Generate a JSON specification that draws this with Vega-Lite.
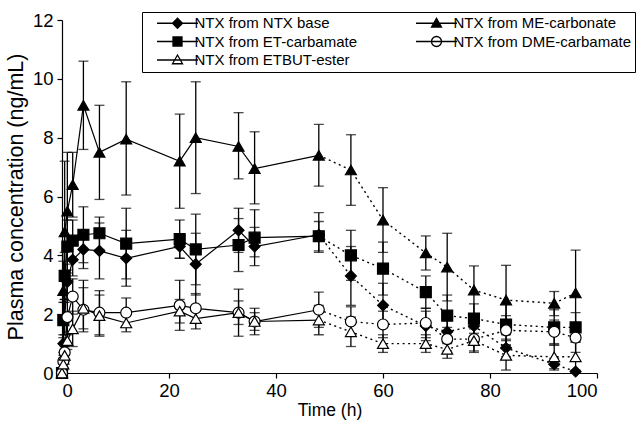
{
  "$schema": "https://vega.github.io/schema/vega-lite/v6.json",
  "width": 535,
  "height": 353,
  "autosize": {"type": "none"},
  "padding": {"left": 62, "top": 20, "right": 47, "bottom": 51},
  "config": {
    "view": {"stroke": null},
    "font": "Liberation Sans",
    "axis": {"grid": false, "domainColor": "black", "tickColor": "black", "labelColor": "black", "titleColor": "black", "labelFont": "Liberation Sans", "titleFont": "Liberation Sans", "titleFontWeight": "normal", "domainWidth": 1.2, "tickWidth": 1.2}
  },
  "data": {"values": [
    {"s":"NTX from NTX base","t":0,"y":0,"lo":0,"hi":0},
    {"s":"NTX from NTX base","t":0.25,"y":1.0,"lo":0.7,"hi":1.3},
    {"s":"NTX from NTX base","t":0.5,"y":1.9,"lo":1.3,"hi":2.5},
    {"s":"NTX from NTX base","t":1,"y":3.1,"lo":2.5,"hi":3.7},
    {"s":"NTX from NTX base","t":2,"y":3.85,"lo":3.3,"hi":4.4},
    {"s":"NTX from NTX base","t":4,"y":4.2,"lo":3.55,"hi":4.85},
    {"s":"NTX from NTX base","t":7,"y":4.15,"lo":3.2,"hi":5.1},
    {"s":"NTX from NTX base","t":12,"y":3.9,"lo":2.95,"hi":4.85},
    {"s":"NTX from NTX base","t":22,"y":4.3,"lo":3.9,"hi":4.7},
    {"s":"NTX from NTX base","t":25,"y":3.7,"lo":2.65,"hi":4.75},
    {"s":"NTX from NTX base","t":33,"y":4.85,"lo":4.1,"hi":5.6},
    {"s":"NTX from NTX base","t":36,"y":4.3,"lo":3.65,"hi":4.95},
    {"s":"NTX from NTX base","t":48,"y":4.7,"lo":4.15,"hi":5.15},
    {"s":"NTX from NTX base","t":54,"y":3.3,"lo":2.3,"hi":4.3},
    {"s":"NTX from NTX base","t":60,"y":2.3,"lo":1.55,"hi":3.05},
    {"s":"NTX from NTX base","t":68,"y":1.6,"lo":1.1,"hi":2.1},
    {"s":"NTX from NTX base","t":72,"y":1.4,"lo":1.0,"hi":1.8},
    {"s":"NTX from NTX base","t":77,"y":1.6,"lo":1.2,"hi":2.0},
    {"s":"NTX from NTX base","t":83,"y":0.85,"lo":0.55,"hi":1.15},
    {"s":"NTX from NTX base","t":92,"y":0.3,"lo":0.1,"hi":0.5},
    {"s":"NTX from NTX base","t":96,"y":0.05,"lo":0,"hi":0.1},

    {"s":"NTX from ME-carbonate","t":0,"y":0,"lo":0,"hi":0},
    {"s":"NTX from ME-carbonate","t":0.25,"y":2.8,"lo":1.8,"hi":3.8},
    {"s":"NTX from ME-carbonate","t":0.5,"y":4.8,"lo":2.4,"hi":7.2},
    {"s":"NTX from ME-carbonate","t":1,"y":5.5,"lo":3.5,"hi":7.5},
    {"s":"NTX from ME-carbonate","t":2,"y":6.4,"lo":5.3,"hi":7.5},
    {"s":"NTX from ME-carbonate","t":4,"y":9.1,"lo":7.6,"hi":10.6},
    {"s":"NTX from ME-carbonate","t":7,"y":7.5,"lo":5.9,"hi":9.1},
    {"s":"NTX from ME-carbonate","t":12,"y":7.95,"lo":6.05,"hi":9.9},
    {"s":"NTX from ME-carbonate","t":22,"y":7.2,"lo":5.6,"hi":8.8},
    {"s":"NTX from ME-carbonate","t":25,"y":8.0,"lo":6.1,"hi":9.9},
    {"s":"NTX from ME-carbonate","t":33,"y":7.7,"lo":6.6,"hi":8.85},
    {"s":"NTX from ME-carbonate","t":36,"y":6.95,"lo":5.75,"hi":8.2},
    {"s":"NTX from ME-carbonate","t":48,"y":7.4,"lo":6.35,"hi":8.45},
    {"s":"NTX from ME-carbonate","t":54,"y":6.9,"lo":5.7,"hi":8.1},
    {"s":"NTX from ME-carbonate","t":60,"y":5.2,"lo":4.1,"hi":6.3},
    {"s":"NTX from ME-carbonate","t":68,"y":4.08,"lo":3.5,"hi":4.66},
    {"s":"NTX from ME-carbonate","t":72,"y":3.6,"lo":2.45,"hi":4.75},
    {"s":"NTX from ME-carbonate","t":77,"y":2.82,"lo":2.0,"hi":3.64},
    {"s":"NTX from ME-carbonate","t":83,"y":2.48,"lo":1.3,"hi":3.66},
    {"s":"NTX from ME-carbonate","t":92,"y":2.37,"lo":1.95,"hi":2.77},
    {"s":"NTX from ME-carbonate","t":96,"y":2.72,"lo":1.3,"hi":4.18},

    {"s":"NTX from ET-carbamate","t":0,"y":0,"lo":0,"hi":0},
    {"s":"NTX from ET-carbamate","t":0.25,"y":1.8,"lo":1.2,"hi":2.4},
    {"s":"NTX from ET-carbamate","t":0.5,"y":3.3,"lo":2.5,"hi":4.1},
    {"s":"NTX from ET-carbamate","t":1,"y":4.3,"lo":3.4,"hi":5.2},
    {"s":"NTX from ET-carbamate","t":2,"y":4.5,"lo":3.8,"hi":5.2},
    {"s":"NTX from ET-carbamate","t":4,"y":4.7,"lo":3.75,"hi":5.65},
    {"s":"NTX from ET-carbamate","t":7,"y":4.75,"lo":4.2,"hi":5.3},
    {"s":"NTX from ET-carbamate","t":12,"y":4.4,"lo":3.2,"hi":5.6},
    {"s":"NTX from ET-carbamate","t":22,"y":4.55,"lo":3.9,"hi":5.2},
    {"s":"NTX from ET-carbamate","t":25,"y":4.2,"lo":3.0,"hi":5.4},
    {"s":"NTX from ET-carbamate","t":33,"y":4.35,"lo":3.45,"hi":5.25},
    {"s":"NTX from ET-carbamate","t":36,"y":4.6,"lo":3.95,"hi":5.55},
    {"s":"NTX from ET-carbamate","t":48,"y":4.65,"lo":4.1,"hi":5.45},
    {"s":"NTX from ET-carbamate","t":54,"y":4.0,"lo":3.15,"hi":4.85},
    {"s":"NTX from ET-carbamate","t":60,"y":3.55,"lo":2.65,"hi":4.45},
    {"s":"NTX from ET-carbamate","t":68,"y":2.75,"lo":2.2,"hi":3.3},
    {"s":"NTX from ET-carbamate","t":72,"y":1.95,"lo":1.25,"hi":2.65},
    {"s":"NTX from ET-carbamate","t":77,"y":1.85,"lo":1.35,"hi":2.35},
    {"s":"NTX from ET-carbamate","t":83,"y":1.65,"lo":0.95,"hi":2.35},
    {"s":"NTX from ET-carbamate","t":92,"y":1.55,"lo":0.95,"hi":2.15},
    {"s":"NTX from ET-carbamate","t":96,"y":1.55,"lo":1.05,"hi":2.05},

    {"s":"NTX from DME-carbamate","t":0,"y":0,"lo":0,"hi":0},
    {"s":"NTX from DME-carbamate","t":0.25,"y":0.4,"lo":0.2,"hi":0.6},
    {"s":"NTX from DME-carbamate","t":0.5,"y":0.7,"lo":0.4,"hi":1.0},
    {"s":"NTX from DME-carbamate","t":1,"y":1.9,"lo":1.3,"hi":2.5},
    {"s":"NTX from DME-carbamate","t":2,"y":2.6,"lo":2.0,"hi":3.2},
    {"s":"NTX from DME-carbamate","t":4,"y":2.15,"lo":1.4,"hi":3.15},
    {"s":"NTX from DME-carbamate","t":7,"y":2.05,"lo":1.3,"hi":2.8},
    {"s":"NTX from DME-carbamate","t":12,"y":2.05,"lo":1.55,"hi":2.55},
    {"s":"NTX from DME-carbamate","t":22,"y":2.3,"lo":1.45,"hi":3.15},
    {"s":"NTX from DME-carbamate","t":25,"y":2.2,"lo":1.7,"hi":2.7},
    {"s":"NTX from DME-carbamate","t":33,"y":2.05,"lo":1.25,"hi":2.85},
    {"s":"NTX from DME-carbamate","t":36,"y":1.75,"lo":1.3,"hi":2.2},
    {"s":"NTX from DME-carbamate","t":48,"y":2.15,"lo":1.55,"hi":2.75},
    {"s":"NTX from DME-carbamate","t":54,"y":1.75,"lo":1.25,"hi":2.25},
    {"s":"NTX from DME-carbamate","t":60,"y":1.65,"lo":1.2,"hi":2.1},
    {"s":"NTX from DME-carbamate","t":68,"y":1.7,"lo":1.2,"hi":2.2},
    {"s":"NTX from DME-carbamate","t":72,"y":1.15,"lo":0.75,"hi":1.55},
    {"s":"NTX from DME-carbamate","t":77,"y":1.15,"lo":0.75,"hi":1.55},
    {"s":"NTX from DME-carbamate","t":83,"y":1.45,"lo":0.95,"hi":1.95},
    {"s":"NTX from DME-carbamate","t":92,"y":1.4,"lo":1.0,"hi":1.8},
    {"s":"NTX from DME-carbamate","t":96,"y":1.2,"lo":0.7,"hi":1.7},

    {"s":"NTX from ETBUT-ester","t":0,"y":0,"lo":0,"hi":0},
    {"s":"NTX from ETBUT-ester","t":0.25,"y":0.3,"lo":0.1,"hi":0.5},
    {"s":"NTX from ETBUT-ester","t":0.5,"y":0.6,"lo":0.3,"hi":0.9},
    {"s":"NTX from ETBUT-ester","t":1,"y":1.1,"lo":0.8,"hi":1.4},
    {"s":"NTX from ETBUT-ester","t":2,"y":1.5,"lo":0.9,"hi":2.1},
    {"s":"NTX from ETBUT-ester","t":4,"y":2.2,"lo":1.5,"hi":2.9},
    {"s":"NTX from ETBUT-ester","t":7,"y":1.95,"lo":1.25,"hi":2.65},
    {"s":"NTX from ETBUT-ester","t":12,"y":1.7,"lo":1.4,"hi":2.0},
    {"s":"NTX from ETBUT-ester","t":22,"y":2.1,"lo":1.7,"hi":2.5},
    {"s":"NTX from ETBUT-ester","t":25,"y":1.85,"lo":1.5,"hi":2.2},
    {"s":"NTX from ETBUT-ester","t":33,"y":2.05,"lo":1.65,"hi":2.45},
    {"s":"NTX from ETBUT-ester","t":36,"y":1.75,"lo":1.45,"hi":2.05},
    {"s":"NTX from ETBUT-ester","t":48,"y":1.8,"lo":1.3,"hi":2.3},
    {"s":"NTX from ETBUT-ester","t":54,"y":1.4,"lo":0.9,"hi":1.9},
    {"s":"NTX from ETBUT-ester","t":60,"y":1.0,"lo":0.7,"hi":1.3},
    {"s":"NTX from ETBUT-ester","t":68,"y":1.0,"lo":0.7,"hi":1.3},
    {"s":"NTX from ETBUT-ester","t":72,"y":0.8,"lo":0.5,"hi":1.1},
    {"s":"NTX from ETBUT-ester","t":77,"y":1.1,"lo":0.7,"hi":1.5},
    {"s":"NTX from ETBUT-ester","t":83,"y":0.6,"lo":0.1,"hi":1.1},
    {"s":"NTX from ETBUT-ester","t":92,"y":0.55,"lo":0.15,"hi":0.95},
    {"s":"NTX from ETBUT-ester","t":96,"y":0.55,"lo":0.05,"hi":1.05}
  ]},
  "encoding": {
    "x": {"field": "t", "type": "quantitative", "scale": {"domain": [0, 100], "nice": false},
      "axis": {"title": "Time (h)", "values": [0, 20, 40, 60, 80, 100], "labelFontSize": 18.5, "titleFontSize": 17.5, "tickSize": 5, "labelPadding": 3, "titlePadding": 2}}
  },
  "layer": [
    {
      "mark": {"type": "rule", "stroke": "black", "strokeWidth": 1.3},
      "encoding": {
        "y": {"field": "lo", "type": "quantitative", "scale": {"domain": [0, 12], "nice": false},
          "axis": {"title": "Plasma concentration (ng/mL)", "values": [0, 2, 4, 6, 8, 10, 12], "labelFontSize": 18.5, "titleFontSize": 21.5, "tickSize": 5, "labelPadding": 4, "titlePadding": 5}},
        "y2": {"field": "hi"}
      }
    },
    {
      "mark": {"type": "tick", "orient": "horizontal", "color": "black", "size": 10, "thickness": 1.3},
      "encoding": {"y": {"field": "lo", "type": "quantitative"}}
    },
    {
      "mark": {"type": "tick", "orient": "horizontal", "color": "black", "size": 10, "thickness": 1.3},
      "encoding": {"y": {"field": "hi", "type": "quantitative"}}
    },
    {
      "transform": [{"filter": "datum.t <= 48"}],
      "mark": {"type": "line", "stroke": "black", "strokeWidth": 1.2},
      "encoding": {"y": {"field": "y", "type": "quantitative"}, "detail": {"field": "s"}}
    },
    {
      "transform": [{"filter": "datum.t >= 48"}],
      "mark": {"type": "line", "stroke": "black", "strokeWidth": 1.4, "strokeDash": [2, 3.5]},
      "encoding": {"y": {"field": "y", "type": "quantitative"}, "detail": {"field": "s"}}
    },
    {
      "mark": {"type": "point", "filled": true, "stroke": "black", "strokeWidth": 1.2, "size": 120, "opacity": 1},
      "encoding": {
        "y": {"field": "y", "type": "quantitative"},
        "shape": {"field": "s", "type": "nominal", "legend": null,
          "scale": {"domain": ["NTX from NTX base", "NTX from ME-carbonate", "NTX from ET-carbamate", "NTX from DME-carbamate", "NTX from ETBUT-ester"],
                    "range": ["diamond", "triangle-up", "square", "circle", "triangle-up"]}},
        "fill": {"field": "s", "type": "nominal", "legend": null,
          "scale": {"domain": ["NTX from NTX base", "NTX from ME-carbonate", "NTX from ET-carbamate", "NTX from DME-carbamate", "NTX from ETBUT-ester"],
                    "range": ["black", "black", "black", "white", "white"]}}
      }
    },
    {
      "mark": {"type": "point", "filled": true, "stroke": "black", "strokeWidth": 1.2, "size": 120, "opacity": 0},
      "encoding": {
        "y": {"field": "y", "type": "quantitative"},
        "shape": {"field": "s", "type": "nominal",
          "scale": {"domain": ["NTX from NTX base", "NTX from ME-carbonate", "NTX from ET-carbamate", "NTX from DME-carbamate", "NTX from ETBUT-ester"],
                    "range": ["M0.8,0H9M4.9,-1L5.9,0L4.9,1L3.9,0Z", "M0.8,0H9M4.9,-1L5.9,0.75H3.9Z", "M0.8,0H9M4,-0.9H5.8V0.9H4Z", "M0.8,0H9M5.9,0A1,1,0,1,1,3.9,0A1,1,0,1,1,5.9,0Z", "M0.8,0H9M4.9,-1L5.9,0.75H3.9Z"]},
          "legend": {"title": null, "orient": "none", "legendX": 80, "legendY": -8, "direction": "horizontal", "columns": 2, "columnPadding": 47, "rowPadding": 1.5,
                     "symbolSize": 100, "symbolStrokeWidth": 1.3, "symbolStrokeColor": "black", "symbolOpacity": 1,
                     "labelFont": "Liberation Sans", "labelFontSize": 15, "labelColor": "black", "labelOffset": 34, "labelLimit": 400,
                     "strokeColor": "black", "fillColor": "white", "padding": 3.5,
                     "encode": {"symbols": {"update": {"stroke": {"value": "black"}, "strokeWidth": {"value": 1.3}, "opacity": {"value": 1}}}}}},
        "fill": {"field": "s", "type": "nominal",
          "scale": {"domain": ["NTX from NTX base", "NTX from ME-carbonate", "NTX from ET-carbamate", "NTX from DME-carbamate", "NTX from ETBUT-ester"],
                    "range": ["black", "black", "black", "white", "white"]},
          "legend": {"title": null, "orient": "none", "legendX": 80, "legendY": -8, "direction": "horizontal", "columns": 2, "columnPadding": 47, "rowPadding": 1.5,
                     "symbolSize": 100, "symbolStrokeWidth": 1.3, "symbolStrokeColor": "black", "symbolOpacity": 1,
                     "labelFont": "Liberation Sans", "labelFontSize": 15, "labelColor": "black", "labelOffset": 34, "labelLimit": 400,
                     "strokeColor": "black", "fillColor": "white", "padding": 3.5,
                     "encode": {"symbols": {"update": {"stroke": {"value": "black"}, "strokeWidth": {"value": 1.3}, "opacity": {"value": 1}}}}}}
      }
    }
  ],
  "resolve": {"scale": {"shape": "independent", "fill": "independent"}}
}
